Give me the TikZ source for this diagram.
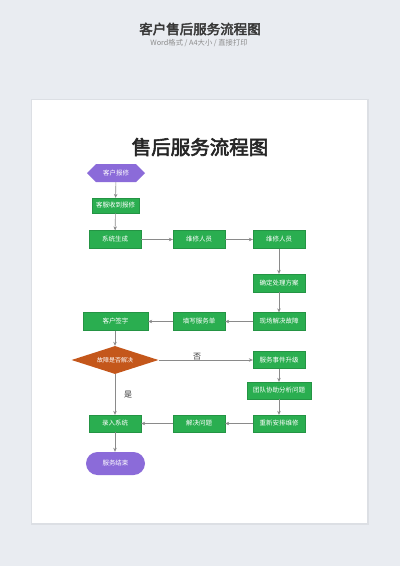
\documentclass[tikz,border=0pt]{standalone}
\usepackage{fontspec}
\usetikzlibrary{shapes.geometric,shapes.symbols,arrows.meta}
\newfontfamily\cjk{Noto Sans CJK SC}
\newfontfamily\cjkb[FakeBold=3]{Noto Sans CJK SC}
\definecolor{bgc}{HTML}{E9ECF1}
\definecolor{shadowc}{HTML}{DCDFE4}
\definecolor{greenc}{HTML}{2AAE50}
\definecolor{purplec}{HTML}{8B6BD9}
\definecolor{orangec}{HTML}{C4571B}
\definecolor{linec}{HTML}{8A8A8A}
\tikzset{
  box/.style={rectangle, fill=greenc, draw=greenc!85!black, line width=0.3pt, text=white, inner sep=0pt,
    minimum width=52pt, minimum height=18pt, font=\cjk\fontsize{6.5}{7}\selectfont},
  hexa/.style={signal, signal to=west and east, signal pointer angle=90, fill=purplec, text=white, inner sep=0pt,
    minimum width=58pt, minimum height=18pt, font=\cjk\fontsize{6.5}{7}\selectfont},
  stadium/.style={rectangle, rounded corners=11.5pt, fill=purplec, text=white, inner sep=0pt,
    minimum width=59pt, minimum height=23pt, font=\cjk\fontsize{6.5}{7}\selectfont},
  decision/.style={diamond, aspect=3.1, fill=orangec, text=white, inner sep=0pt,
    minimum width=87pt, minimum height=28pt, font=\cjk\fontsize{6}{7}\selectfont},
  conn/.style={draw=linec, line width=0.6pt, -{Stealth[length=4pt,width=3.5pt]}},
  lbl/.style={font=\cjk\fontsize{8}{9}\selectfont, text=black!80, inner sep=0pt}
}
\begin{document}
\begin{tikzpicture}[x=1pt,y=-1pt]
\useasboundingbox (0,0) rectangle (400,566);
\fill[bgc] (0,0) rectangle (400,566);
\fill[shadowc] (31,99) rectangle (368.5,524.5);
\fill[white] (32,100) rectangle (367,523);

\node[font=\cjkb\fontsize{13.5}{15}\selectfont, text=black!78] (t1) at (200,29) {客户售后服务流程图};
\node[font=\cjk\fontsize{7.3}{8}\selectfont, text=black!45] (t2) at (199,43) {Word格式 / A4大小 / 直接打印};
\node[font=\cjkb\fontsize{19.5}{21}\selectfont, text=black!85] (t3) at (200,147) {售后服务流程图};

\node[hexa] (n1) at (116,173) {客户报修};
\node[box, minimum width=47pt, minimum height=15pt] (n2) at (115.5,205.5) {客服收到报修};
\node[box] (n3) at (115,239.5) {系统生成};
\node[box] (n4) at (199,239.5) {维修人员};
\node[box] (n5) at (279,239.5) {维修人员};
\node[box] (n6) at (279,283) {确定处理方案};
\node[box] (n7) at (279,321.5) {现场解决故障};
\node[box] (n8) at (199,321.5) {填写服务单};
\node[box, minimum width=65pt] (n9) at (115.5,321.5) {客户签字};
\node[decision] (d1) at (115,360) {故障是否解决};
\node[box, minimum height=17pt] (n10) at (279,360) {服务事件升级};
\node[box, minimum width=64pt, minimum height=17pt] (n11) at (279,390.5) {团队协助分析问题};
\node[box, minimum height=17pt] (n12) at (279,423.5) {重新安排维修};
\node[box, minimum height=17pt] (n13) at (199,423.5) {解决问题};
\node[box, minimum height=17pt] (n14) at (115,423.5) {录入系统};
\node[stadium] (n15) at (115.5,463.5) {服务结束};

\draw[conn] (n1) -- (n2);
\draw[conn] (n2) -- (n3);
\draw[conn] (n3) -- (n4);
\draw[conn] (n4) -- (n5);
\draw[conn] (n5) -- (n6);
\draw[conn] (n6) -- (n7);
\draw[conn] (n7) -- (n8);
\draw[conn] (n8) -- (n9);
\draw[conn] (n9.south -| d1.north) -- (d1.north);
\draw[conn] (d1.east) -- (n10.west);
\draw[conn] (n10) -- (n11);
\draw[conn] (n11) -- (n12);
\draw[conn] (n12) -- (n13);
\draw[conn] (n13) -- (n14);
\draw[conn] (d1.south) -- (n14.north -| d1.south);
\draw[conn] (n14.south) -- (n15.north -| n14.south);

\node[lbl] (l1) at (197,357) {否};
\node[lbl] (l2) at (128,395) {是};
\end{tikzpicture}
\end{document}
